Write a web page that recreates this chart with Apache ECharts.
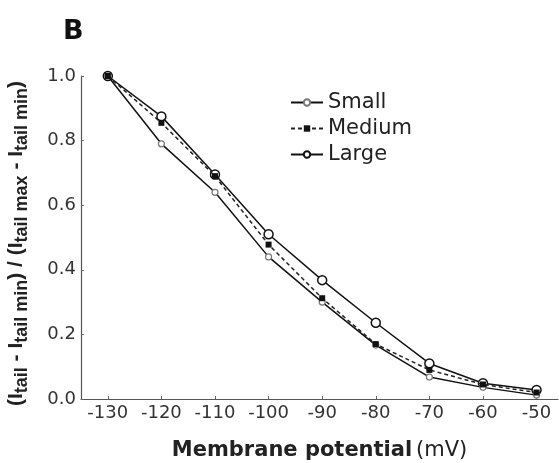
<!DOCTYPE html>
<html>
<head>
<meta charset="utf-8">
<script src="https://cdn.jsdelivr.net/npm/echarts@6/dist/echarts.min.js"></script>
<style>
  html, body {margin: 0; padding: 0; background: #fff;}
  #chart {width: 559px; height: 463px;}
</style>
</head>
<body>
<div id="chart"></div>
<script>
var potentials = [-130, -120, -110, -100, -90, -80, -70, -60, -50];
var smallVals = [1.0, 0.79, 0.64, 0.44, 0.30, 0.167, 0.068, 0.036, 0.012];
var mediumVals = [1.0, 0.855, 0.69, 0.478, 0.312, 0.17, 0.09, 0.045, 0.02];
var largeVals = [1.0, 0.875, 0.695, 0.51, 0.368, 0.236, 0.11, 0.049, 0.028];
var xTickValues = [-130, -120, -110, -100, -90, -80, -70, -60, -50];

function pairs(vals) {
    return potentials.map(function (p, i) { return [p, vals[i]]; });
}

var font = 'DejaVu Sans';
var chart = echarts.init(document.getElementById('chart'));

chart.setOption({
    animation: false,
    textStyle: {fontFamily: font},
    title: {
        text: 'B', left: 58, top: 13,
        textStyle: {fontSize: 27, fontWeight: 'bold', color: '#111', fontFamily: font}
    },
    legend: {
        orient: 'vertical', left: 285, top: 87,
        itemWidth: 32, itemHeight: 8, itemGap: 5,
        textStyle: {fontSize: 21, color: '#222', fontFamily: font},
        data: ['Small', 'Medium', 'Large']
    },
    grid: {left: 81, right: 1, top: 76, bottom: 64, outerBoundsMode: 'none'},
    xAxis: {
        type: 'value', min: -135, max: -46,
        axisLine: {lineStyle: {color: '#555', width: 1.2}},
        axisTick: {inside: true, length: 3, customValues: xTickValues, lineStyle: {color: '#666'}},
        axisLabel: {customValues: xTickValues, fontSize: 18, color: '#333', margin: 5},
        splitLine: {show: false},
        name: '{b|Membrane potential} {n|(mV)}',
        nameLocation: 'middle', nameGap: 41,
        nameTextStyle: {
            rich: {
                b: {fontSize: 21, fontWeight: 'bold', color: '#222', fontFamily: font},
                n: {fontSize: 21, color: '#222', fontFamily: font}
            }
        }
    },
    yAxis: {
        type: 'value', min: 0, max: 1, interval: 0.2,
        axisLine: {show: true, lineStyle: {color: '#555', width: 1.2}},
        axisTick: {show: true, inside: true, length: 3, lineStyle: {color: '#666'}},
        axisLabel: {
            fontSize: 18, color: '#333', margin: 5,
            formatter: function (v) { return v.toFixed(1); }
        },
        splitLine: {show: false},
        name: '{b|(I}{s|tail}{b| - I}{s|tail min}{b|) / (I}{s|tail max}{b| - I}{s|tail min}{b|)}',
        nameLocation: 'middle', nameRotate: 90, nameGap: 54,
        nameTextStyle: {
            padding: [0, 12, 0, 0],
            rich: {
                b: {fontSize: 21, fontWeight: 'bold', color: '#222', lineHeight: 24, verticalAlign: 'bottom', fontFamily: 'Liberation Sans'},
                s: {fontSize: 18, fontWeight: 'bold', color: '#222', lineHeight: 24, verticalAlign: 'bottom', padding: [0, 0, -4, 0], fontFamily: 'Liberation Sans'}
            }
        }
    },
    series: [
        {
            name: 'Small', type: 'line', data: pairs(smallVals),
            symbol: 'circle', symbolSize: 6, z: 3,
            lineStyle: {color: '#111', width: 1.5},
            itemStyle: {color: '#fff', borderColor: '#777', borderWidth: 1.2}
        },
        {
            name: 'Medium', type: 'line', data: pairs(mediumVals),
            symbol: 'rect', symbolSize: 6, z: 4,
            lineStyle: {color: '#222', width: 1.5, type: [4, 3]},
            itemStyle: {color: '#111', borderColor: '#111', borderWidth: 0}
        },
        {
            name: 'Large', type: 'line', data: pairs(largeVals),
            symbol: 'circle', symbolSize: 9, z: 2,
            lineStyle: {color: '#111', width: 1.5},
            itemStyle: {color: '#fff', borderColor: '#111', borderWidth: 1.5}
        }
    ]
});
</script>
</body>
</html>
